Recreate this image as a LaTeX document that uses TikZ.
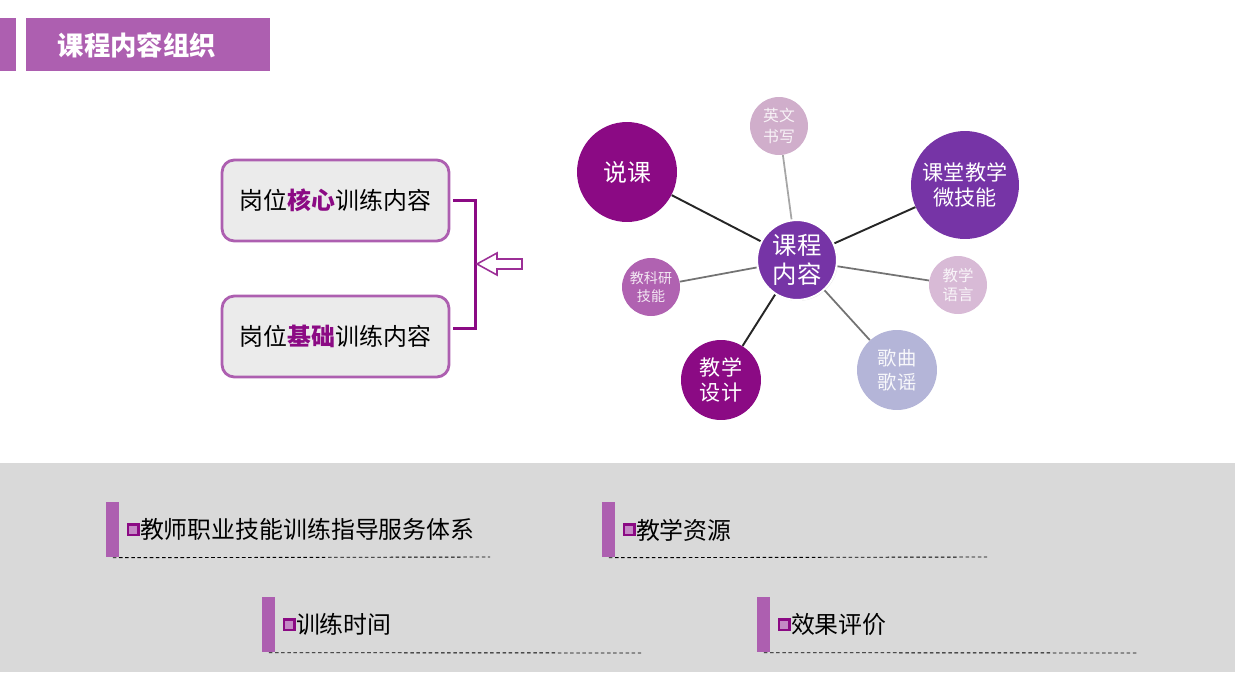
\documentclass[tikz,border=0pt]{standalone}
\usepackage{fontspec}
\setmainfont{Noto Sans CJK SC}
\usepackage{tikz}
\usetikzlibrary{positioning,shadows}
\usepackage{xcolor}
\definecolor{bandpurple}{HTML}{AD5FB0}
\definecolor{deeppurple}{HTML}{8B0A84}
\definecolor{violet}{HTML}{7634A6}
\definecolor{midpurple}{HTML}{B062B1}
\definecolor{palepink}{HTML}{D0AECB}
\definecolor{palelilac}{HTML}{D8BAD6}
\definecolor{paleblue}{HTML}{B4B5D8}
\definecolor{boxgray}{HTML}{EBEBEB}
\definecolor{bandgray}{HTML}{D9D9D9}

\begin{document}
\begin{tikzpicture}[
  x=0.02cm, y=-0.02cm,
  every node/.style={inner sep=0pt, font=\fontsize{13.6}{16}\selectfont},
  topic/.style={draw=bandpurple, line width=1.6pt, fill=boxgray, rounded corners=7pt,
                minimum width=4.54cm, minimum height=1.62cm},
  bubble/.style={circle, text=white, align=center},
  pale/.style={bubble, text=white!85!#1, font=\fontsize{8.8}{10.5}\selectfont},
  darkln/.style={line width=1.1pt, black!85},
  midln/.style={line width=1pt, black!55},
  lightln/.style={line width=1pt, black!35},
  markbar/.style={fill=bandpurple, minimum width=0.26cm, minimum height=1.1cm, anchor=north west},
  bullet/.style={draw=deeppurple, line width=1.4pt, fill=midpurple!75, minimum size=0.21cm},
  item/.style={anchor=west, font=\fontsize{13.6}{16}\selectfont},
  dots/.style={dashed, dash pattern=on 2pt off 1.5pt, line width=0.5pt, black}
]
\useasboundingbox (0,0) rectangle (1235,697);

%% Title bar
\node[fill=bandpurple, minimum width=0.32cm, minimum height=1.06cm, anchor=north west] (tabl) at (0,18) {};
\node[fill=bandpurple, minimum width=4.88cm, minimum height=1.06cm, anchor=north west] (tabr) at (26,18) {};
\node[text=white, font=\fontsize{15}{18}\selectfont\bfseries] (title) at (137,45) {课程内容组织};

%% Left boxes
\node[topic] (core)  at (335.5,200.5) {岗位\textcolor{deeppurple}{\textbf{核心}}训练内容};
\node[topic] (basic) at (335.5,336.5) {岗位\textcolor{deeppurple}{\textbf{基础}}训练内容};
\draw[deeppurple, line width=1.6pt]
  ([xshift=0.06cm]core.east) -- ++(22,0) |- ([xshift=0.06cm,yshift=0.16cm]basic.east);
\draw[deeppurple!85, line width=0.9pt, fill=white]
  (522,259) -- (497,259) -- (497,253) -- (477,264) -- (497,275) -- (497,269) -- (522,269) -- cycle;

%% Bubbles
\node[bubble, fill=deeppurple, minimum size=2cm] (shuo) at (627,172) {说课};
\node[pale=palepink, fill=palepink, minimum size=1.16cm,
      font=\fontsize{9}{11.5}\selectfont] (ying) at (779,126) {英文\\书写};
\node[bubble, fill=violet, minimum size=2.16cm,
      font=\fontsize{12}{14}\selectfont] (ketang) at (965,185) {课堂教学\\微技能};
\node[pale=palelilac, fill=palelilac, minimum size=1.16cm,
      font=\fontsize{8.8}{11}\selectfont] (yuyan) at (958,285) {教学\\语言};
\node[bubble, fill=paleblue, text=white!90!paleblue, minimum size=1.6cm,
      font=\fontsize{11}{13.5}\selectfont] (gequ) at (897,370) {歌曲\\歌谣};
\node[bubble, fill=deeppurple, minimum size=1.6cm,
      font=\fontsize{12}{14}\selectfont] (sheji) at (721,380) {教学\\设计};
\node[pale=midpurple, fill=midpurple, minimum size=1.16cm,
      font=\fontsize{8}{10}\selectfont] (keyan) at (651,287) {教科研\\技能};
\node[bubble, fill=violet, draw=white, line width=1.2pt, minimum size=1.6cm,
      drop shadow={shadow xshift=0.5pt, shadow yshift=-0.5pt, opacity=0.35},
      font=\fontsize{13.9}{16.4}\selectfont] (hub) at (797,260) {课程\\内容};

%% Spokes
\draw[darkln]  (hub) -- (shuo);
\draw[darkln]  (hub) -- (ketang);
\draw[darkln]  (hub) -- (sheji);
\draw[lightln] (hub) -- (ying);
\draw[midln]   (hub) -- (keyan);
\draw[midln]   (hub) -- (yuyan);
\draw[midln]   (hub) -- (gequ);

%% Bottom band
\fill[bandgray] (0,463) rectangle (1235,672);

\node[markbar] (bar1) at (106,502) {};
\node[bullet, right=0.14cm of bar1] (dot1) {};
\node[item, right=0cm of dot1] (txt1) {教师职业技能训练指导服务体系};
\coordinate (end1) at (490,557);
\draw[dots] (bar1.south) -- (end1);

\node[markbar] (bar2) at (602,502) {};
\node[bullet, right=0.14cm of bar2] (dot2) {};
\node[item, right=0cm of dot2] (txt2) {教学资源};
\coordinate (end2) at (987,557);
\draw[dots] (bar2.south) -- (end2);

\node[markbar] (bar3) at (262,597) {};
\node[bullet, right=0.14cm of bar3] (dot3) {};
\node[item, right=0cm of dot3] (txt3) {训练时间};
\coordinate (end3) at (641,653);
\draw[dots] (bar3.south) -- (end3);

\node[markbar] (bar4) at (757,597) {};
\node[bullet, right=0.14cm of bar4] (dot4) {};
\node[item, right=0cm of dot4] (txt4) {效果评价};
\coordinate (end4) at (1137,653);
\draw[dots] (bar4.south) -- (end4);
\end{tikzpicture}
\end{document}
